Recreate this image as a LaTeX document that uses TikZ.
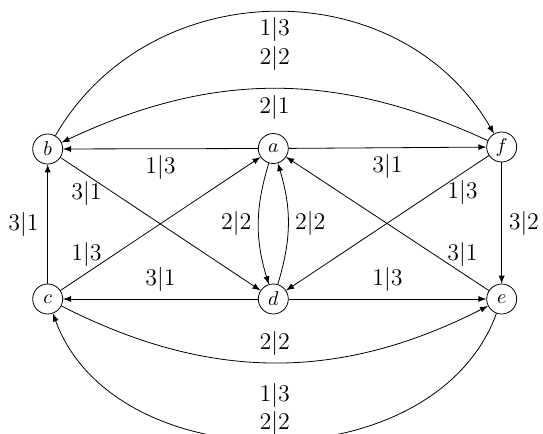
\documentclass[tikz,border=0pt]{standalone}
\begin{document}
\begin{tikzpicture}[x=0.5pt,y=0.5pt,>=latex,
  st/.style={circle,draw,minimum size=15pt,inner sep=1pt},
  lb/.style={font=\large}]
\useasboundingbox (0,0) rectangle (543,-434);
\node[st] (b) at (47.7,-149) {$b$};
\node[st] (a) at (273.3,-148.5) {$a$};
\node[st] (f) at (501.7,-147) {$f$};
\node[st] (c) at (47.7,-299) {$c$};
\node[st] (d) at (273.3,-299) {$d$};
\node[st] (e) at (501.7,-299) {$e$};
\draw[->] (a) -- node[lb,below]{$1|3$} (b);
\draw[->] (a) -- node[lb,below]{$3|1$} (f);
\draw[->] (d) -- node[lb,above]{$3|1$} (c);
\draw[->] (d) -- node[lb,above]{$1|3$} (e);
\draw[->] (c) -- node[lb,left,xshift=-1pt]{$3|1$} (b);
\draw[->] (f) -- node[lb,right]{$3|2$} (e);
\draw[->] (b) -- node[lb,pos=0.13,below]{$3|1$} (d);
\draw[->] (c) -- node[lb,pos=0.13,above]{$1|3$} (a);
\draw[->] (f) -- node[lb,pos=0.13,below]{$1|3$} (d);
\draw[->] (e) -- node[lb,pos=0.13,above]{$3|1$} (a);
\draw[->] (a) to[bend right=17] node[lb,left]{$2|2$} (d);
\draw[->] (d) to[bend right=17] node[lb,right]{$2|2$} (a);
\draw[->] (f) to[bend right=25] node[lb,below]{$2|1$} (b);
\draw[->] (c) to[bend right=27] node[lb,above]{$2|2$} (e);
\draw[->] (b) to[out=60,in=120,looseness=1.1] node[lb,below=-1pt]{$1|3$} node[lb,below=13.5pt]{$2|2$} (f);
\draw[->] (e) to[out=-110,in=-70,looseness=1.04] node[lb,above=-1pt]{$2|2$} node[lb,above=13pt]{$1|3$} (c);
\end{tikzpicture}
\end{document}
